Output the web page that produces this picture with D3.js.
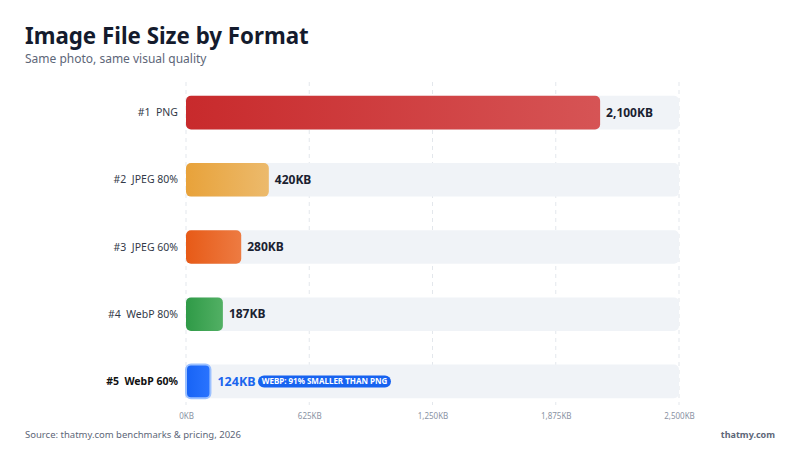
<!DOCTYPE html>
<html>
<head>
<meta charset="utf-8">
<script src="https://cdn.jsdelivr.net/npm/d3@7"></script>
<style>
  html, body { margin: 0; padding: 0; background: #fff; }
  svg { display: block; font-family: "Noto Sans", "Open Sans", sans-serif; }
</style>
</head>
<body>
<div id="chart"></div>
<script>
const formats = ["PNG", "JPEG 80%", "JPEG 60%", "WebP 80%", "WebP 60%"];
const sizesKB = [2100, 420, 280, 187, 124];
const tickValues = [0, 625, 1250, 1875, 2500];
const barColors = [
  ["#c82a2c", "#d65455"],
  ["#e8a23a", "#ecba6c"],
  ["#e75a17", "#ed7b42"],
  ["#2f9a47", "#52b064"],
  ["#1763f5", "#2a74ff"]
];

const W = 800, H = 450;
const svg = d3.select("#chart").append("svg")
  .attr("width", W).attr("height", H);

const defs = svg.append("defs");
barColors.forEach((c, i) => {
  const lg = defs.append("linearGradient").attr("id", `grad${i}`)
    .attr("x1", "0%").attr("x2", "100%").attr("y1", "0%").attr("y2", "0%");
  lg.append("stop").attr("offset", "0%").attr("stop-color", c[0]);
  lg.append("stop").attr("offset", "100%").attr("stop-color", c[1]);
});

// titles
svg.append("text").attr("x", 25).attr("y", 44)
  .attr("font-size", 22.3).attr("font-weight", 700).attr("fill", "#141b2d")
  .text("Image File Size by Format");
svg.append("text").attr("x", 25).attr("y", 63)
  .attr("font-size", 12).attr("fill", "#5d6678")
  .text("Same photo, same visual quality");

// scales
const x = d3.scaleLinear().domain([0, 2500]).range([186, 679]);
const y = d3.scaleBand().domain(formats).range([79, 415]).paddingInner(0.5).paddingOuter(0.25);

// grid
svg.append("g").selectAll("line").data(tickValues).join("line")
  .attr("x1", d => x(d)).attr("x2", d => x(d))
  .attr("y1", 82).attr("y2", 405)
  .attr("stroke", "#e3e7ec").attr("stroke-width", 1)
  .attr("stroke-dasharray", "4,4");

// axis labels
const axis = d3.axisBottom(x).tickValues(tickValues)
  .tickFormat(d => d3.format(",")(d) + "KB").tickSize(0).tickPadding(0);
const ax = svg.append("g").attr("transform", "translate(0,413)").call(axis);
ax.select(".domain").remove();
ax.selectAll("text").attr("font-size", 8).attr("fill", "#8a93a4")
  .attr("font-family", "'Noto Sans', sans-serif");

const rows = svg.append("g").selectAll("g").data(formats).join("g")
  .attr("transform", d => `translate(0,${y(d)})`);
const bh = y.bandwidth();

// track
rows.append("rect")
  .attr("x", x(0)).attr("width", x(2500) - x(0))
  .attr("height", bh).attr("rx", 5)
  .attr("fill", "#f0f3f7");

// bars
rows.append("rect")
  .attr("x", x(0))
  .attr("width", (d, i) => x(sizesKB[i]) - x(0))
  .attr("height", bh).attr("rx", 5)
  .attr("fill", (d, i) => `url(#grad${i})`)
  .attr("stroke", (d, i) => i === 4 ? "#9cc1ff" : "none")
  .attr("stroke-width", 2);

// row labels
rows.append("text")
  .attr("x", 178).attr("y", bh / 2).attr("dy", "0.35em")
  .attr("text-anchor", "end")
  .attr("font-size", 10.5)
  .attr("font-weight", (d, i) => i === 4 ? 700 : 400)
  .attr("fill", (d, i) => i === 4 ? "#111" : "#333a48")
  .style("white-space", "pre")
  .text((d, i) => `#${i + 1}  ${d}`);

// value labels
rows.append("text")
  .attr("x", (d, i) => x(sizesKB[i]) + (i === 4 ? 7 : 6))
  .attr("y", bh / 2).attr("dy", "0.35em")
  .attr("font-size", (d, i) => i === 4 ? 12.5 : 12)
  .attr("font-weight", 700)
  .attr("fill", (d, i) => i === 4 ? "#1a66ee" : "#1a2130")
  .text((d, i) => d3.format(",")(sizesKB[i]) + "KB");

// badge
const last = formats[4];
const bx = 258, bw = 133;
const badge = svg.append("g").attr("transform", `translate(${bx},${y(last) + bh / 2})`);
badge.append("rect").attr("x", 0).attr("y", -6).attr("width", bw).attr("height", 12)
  .attr("rx", 6).attr("fill", "#1763f0");
badge.append("text").attr("x", bw / 2).attr("y", 0).attr("dy", "0.35em")
  .attr("text-anchor", "middle").attr("font-size", 8).attr("font-weight", 700)
  .attr("fill", "#fff").text("WEBP: 91% SMALLER THAN PNG");

// footer
svg.append("text").attr("x", 25).attr("y", 438)
  .attr("font-size", 9.5).attr("fill", "#5d6678")
  .text("Source: thatmy.com benchmarks & pricing, 2026");
svg.append("text").attr("x", 775).attr("y", 438).attr("text-anchor", "end")
  .attr("font-size", 9).attr("font-weight", 700).attr("fill", "#5d6678")
  .text("thatmy.com");
</script>
</body>
</html>
